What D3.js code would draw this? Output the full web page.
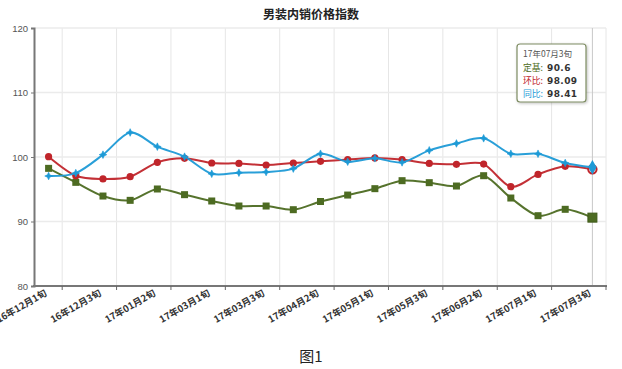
<!DOCTYPE html>
<html><head><meta charset="utf-8">
<script src="https://cdn.jsdelivr.net/npm/d3@7"></script>
<style>
html,body{margin:0;padding:0;background:#fff;}
svg{display:block;}
</style></head>
<body>
<svg id="c" width="622" height="369"></svg>
<script>
const categories = ["16年12月1旬","16年12月2旬","16年12月3旬","17年01月1旬","17年01月2旬","17年01月3旬","17年03月1旬","17年03月2旬","17年03月3旬","17年04月1旬","17年04月2旬","17年04月3旬","17年05月1旬","17年05月2旬","17年05月3旬","17年06月1旬","17年06月2旬","17年06月3旬","17年07月1旬","17年07月2旬","17年07月3旬"];
const dingji = [98.24, 96.07, 93.95, 93.28, 95.04, 94.16, 93.18, 92.4, 92.4, 91.83, 93.1, 94.1, 95.09, 96.33, 96.02, 95.5, 97.1, 93.64, 90.9, 91.89, 90.6];
const huanbi = [100.05, 97.1, 96.6, 96.95, 99.17, 99.8, 99.07, 99.0, 98.76, 99.07, 99.33, 99.6, 99.85, 99.6, 99.0, 98.86, 98.9, 95.4, 97.3, 98.55, 98.09];
const tongbi = [97.05, 97.5, 100.36, 103.8, 101.6, 100.05, 97.4, 97.57, 97.67, 98.2, 100.5, 99.27, 99.8, 99.17, 101.03, 102.1, 102.9, 100.5, 100.5, 99.07, 98.41];
const seriesNames = ["定基","环比","同比"];
const yTicks = [80, 90, 100, 110, 120];
const title = "男装内销价格指数";
const caption = "图1";

const colors = {"定基":"#4d6b22","环比":"#c0252b","同比":"#1d9ad6"};
const svg = d3.select("#c");
const L = 35, R = 606, T = 28, B = 286;

const x = d3.scaleBand().domain(categories).range([L, R]).padding(0);
const y = d3.scaleLinear().domain([80, 120]).range([B, T]);
const bw = x.bandwidth();
const cx = c => x(c) + bw / 2;

// title
svg.append("text").attr("x", 311).attr("y", 19).attr("text-anchor", "middle")
  .attr("font-family", "'Noto Sans CJK SC', sans-serif").attr("font-weight", "bold")
  .attr("font-size", 12).attr("fill", "#222").text(title);

// grid
const g = svg.append("g");
const boundaryIdx = d3.range(1, categories.length + 1, 2);
g.selectAll("line.vg").data(boundaryIdx).join("line")
  .attr("x1", k => L + bw * k).attr("x2", k => L + bw * k)
  .attr("y1", T).attr("y2", B).attr("stroke", "#e6e6e6").attr("stroke-width", 1);
g.selectAll("line.hg").data(yTicks.filter(v => v > 80)).join("line")
  .attr("x1", L).attr("x2", R).attr("y1", v => y(v)).attr("y2", v => y(v))
  .attr("stroke", "#ebebeb").attr("stroke-width", 1.5);

// tooltip axis pointer
svg.append("line").attr("x1", cx(categories[20])).attr("x2", cx(categories[20]))
  .attr("y1", T).attr("y2", B).attr("stroke", "#c8c8c8").attr("stroke-width", 1);

// y axis
const yAxis = svg.append("g").attr("transform", `translate(${L - 1},0)`)
  .call(d3.axisLeft(y).tickValues(yTicks).tickSize(3).tickPadding(3));
yAxis.select(".domain").attr("stroke", "#777").attr("stroke-width", 2);
yAxis.selectAll(".tick line").attr("stroke", "#777");
yAxis.selectAll(".tick text").attr("font-family", "Arial, 'Liberation Sans', sans-serif")
  .attr("font-size", 9.5).attr("fill", "#555");

// x axis
const xAxisG = svg.append("g").attr("transform", `translate(0,${B})`);
xAxisG.append("line").attr("x1", L - 2).attr("x2", R + 1).attr("y1", 0).attr("y2", 0)
  .attr("stroke", "#777").attr("stroke-width", 2);
xAxisG.selectAll("line.xt").data(boundaryIdx).join("line")
  .attr("x1", k => L + bw * k).attr("x2", k => L + bw * k).attr("y1", 0).attr("y2", 4)
  .attr("stroke", "#666").attr("stroke-width", 1);
xAxisG.selectAll("text").data(categories.filter((c, i) => i % 2 === 0)).join("text")
  .attr("transform", c => `translate(${cx(c) - 1},${9}) rotate(-30)`)
  .attr("text-anchor", "end")
  .attr("font-family", "'Noto Sans CJK SC', sans-serif").attr("font-weight", "bold")
  .attr("font-size", 9.5).attr("fill", "#333").text(c => c);

// series
const seriesData = [dingji, huanbi, tongbi];
const line = d3.line().x((d, i) => cx(categories[i])).y(d => y(d)).curve(d3.curveCardinal.tension(0.1));

const star4 = {
  draw(ctx, size) {
    const r = Math.sqrt(size) * 0.75, ri = r * 0.45;
    for (let k = 0; k < 8; k++) {
      const a = k * Math.PI / 4 - Math.PI / 2;
      const rr = k % 2 === 0 ? r : ri;
      const px = rr * Math.cos(a), py = rr * Math.sin(a);
      if (k === 0) ctx.moveTo(px, py); else ctx.lineTo(px, py);
    }
    ctx.closePath();
  }
};

seriesData.forEach((arr, si) => {
  const name = seriesNames[si];
  const col = colors[name];
  svg.append("path").datum(arr).attr("d", line).attr("fill", "none")
    .attr("stroke", col).attr("stroke-width", 2).attr("opacity", 0.95);
  const last = arr.length - 1;
  const pts = svg.append("g");
  arr.forEach((v, i) => {
    const px = cx(categories[i]), py = y(v);
    if (name === "定基") {
      const s = i === last ? 9 : 7;
      pts.append("rect").attr("x", px - s / 2).attr("y", py - s / 2).attr("width", s).attr("height", s)
        .attr("fill", col).attr("stroke", i === last ? "#3e5a18" : "none");
    } else if (name === "环比") {
      if (i === last) {
        pts.append("circle").attr("cx", px).attr("cy", py).attr("r", 4.2)
          .attr("fill", "#f4d6d6").attr("stroke", col).attr("stroke-width", 2);
      } else {
        pts.append("circle").attr("cx", px).attr("cy", py).attr("r", 3.6).attr("fill", col);
      }
    } else {
      if (i === last) {
        pts.append("path").attr("transform", `translate(${px},${py})`)
          .attr("d", d3.symbol(d3.symbolDiamond, 60)()).attr("fill", col);
      } else {
        pts.append("path").attr("transform", `translate(${px},${py})`)
          .attr("d", d3.symbol(star4, 26)()).attr("fill", col).attr("stroke", col).attr("stroke-width", 0.6);
      }
    }
  });
});

// tooltip
const tipX = 517, tipY = 44, tipW = 69, tipH = 58;
const tip = svg.append("g");
const defs = svg.append("defs");
const f = defs.append("filter").attr("id", "sh").attr("x", "-20%").attr("y", "-20%").attr("width", "150%").attr("height", "150%");
f.append("feDropShadow").attr("dx", 1).attr("dy", 1).attr("stdDeviation", 1.5).attr("flood-color", "#000").attr("flood-opacity", 0.25);
tip.append("rect").attr("x", tipX).attr("y", tipY).attr("width", tipW).attr("height", tipH)
  .attr("rx", 3).attr("fill", "#fff").attr("stroke", "#7d8c62").attr("stroke-width", 1.2)
  .attr("filter", "url(#sh)");
const tf = "'Noto Sans CJK SC', sans-serif";
tip.append("text").attr("x", tipX + 6).attr("y", tipY + 13).attr("font-family", tf)
  .attr("font-size", 8.5).attr("fill", "#555").text(categories[20]);
const vals = [dingji[20], huanbi[20], tongbi[20]];
seriesNames.forEach((n, i) => {
  const yy = tipY + 26.5 + i * 13;
  const lab = tip.append("text").attr("x", tipX + 6).attr("y", yy)
    .attr("font-family", tf).attr("font-size", 8.8).attr("fill", colors[n]).text(n + ":");
  const w = lab.node().getComputedTextLength();
  tip.append("text").attr("x", tipX + 6 + w + 4).attr("y", yy)
    .attr("font-family", "'DejaVu Sans', sans-serif").attr("font-size", 9)
    .attr("font-weight", "bold").attr("fill", "#333").attr("letter-spacing", 0.4).text(String(vals[i]));
});

// caption
svg.append("text").attr("x", 311).attr("y", 362).attr("text-anchor", "middle")
  .attr("font-family", "'Noto Sans CJK SC', serif").attr("font-size", 15).attr("fill", "#222").text(caption);
</script>
</body></html>
